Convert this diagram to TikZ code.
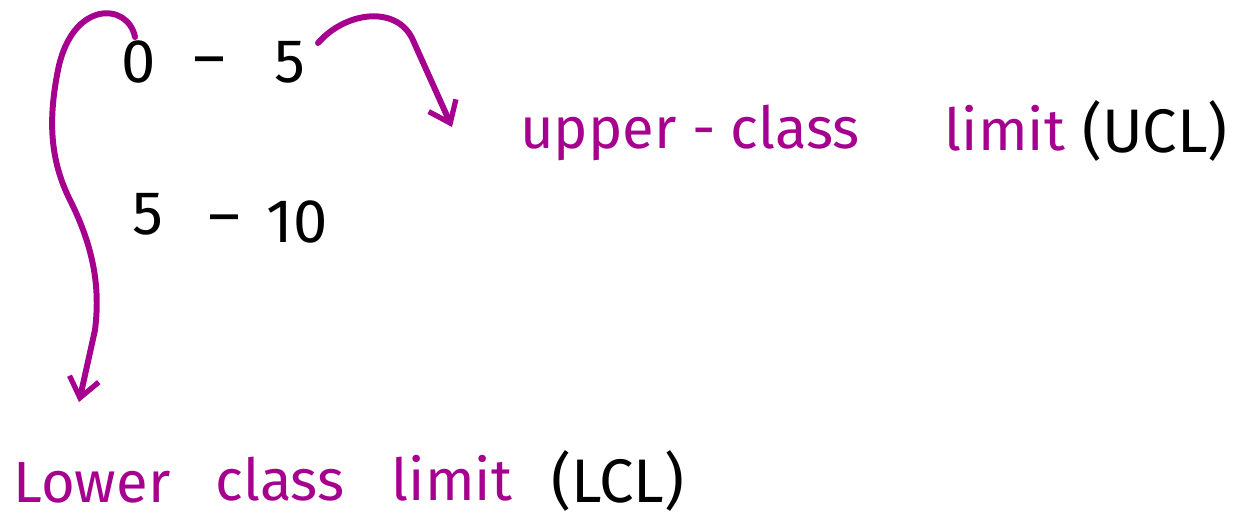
\documentclass[tikz,border=0pt]{standalone}
\usepackage{fontspec}
\setmainfont{Fira Sans}
\usetikzlibrary{arrows.meta}
\definecolor{plum}{RGB}{166,0,143}
\tikzset{
  handarrow/.style={plum, line width=3.4pt, line cap=round, line join=round,
    -{Straight Barb[length=11pt, width=17pt, line width=3pt]}},
  word/.style={anchor=base, inner sep=0pt, font=\fontsize{35}{40}\selectfont},
  pinkword/.style={word, text=plum, font=\fontsize{33}{40}\selectfont},
}

\begin{document}
\begin{tikzpicture}[x=0.02cm, y=-0.02cm]
  \useasboundingbox (0,0) rectangle (1243,529);
  % class intervals
  \node[word] (zero) at (139,82) {0};
  \node[word] (dashA) at (209,78) {--};
  \node[word] (fiveA) at (290,82) {5};
  \node[word] (fiveB) at (148,234) {5};
  \node[word] (dashB) at (224,236) {--};
  \node[word] (ten) at (297,242) {10};
  % upper limit label
  \node[pinkword] (upper) at (690,148) {upper - class};
  \node[pinkword] (limitU) at (1005,150) {limit};
  \node[word] (ucl) at (1155,152) {(UCL)};
  % lower limit label
  \node[pinkword] (lower) at (92,502) {Lower};
  \node[pinkword] (classL) at (280,500) {class};
  \node[pinkword] (limitL) at (452,500) {limit};
  \node[word] (lcl) at (618,502) {(LCL)};
  % arrows
  \coordinate (fivetop) at (318,43);
  \coordinate (ucltip) at (452,127);
  \coordinate (zerotop) at (135,37);
  \coordinate (lcltip) at (79,402);
  \draw[handarrow] (fivetop) .. controls (345,12) and (395,5) .. (412,38) -- (ucltip);
  \draw[handarrow] (zerotop) .. controls (128,2) and (72,0) .. (58,70)
    .. controls (48,120) and (50,160) .. (70,200)
    .. controls (95,250) and (100,290) .. (95,330) -- (lcltip);
\end{tikzpicture}
\end{document}
